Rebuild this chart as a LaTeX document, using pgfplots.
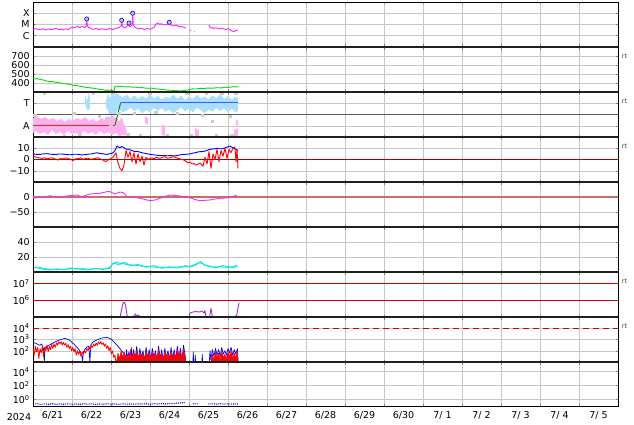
\documentclass[border=0pt]{standalone}
\usepackage{fontspec}
\setmainfont{DejaVu Sans}
\usepackage{pgfplots}
\pgfplotsset{compat=1.18}
\definecolor{xmag}{HTML}{FF22FF}
\definecolor{vgreen}{HTML}{00E000}
\definecolor{ltblue}{HTML}{A8DFFF}
\definecolor{ltpink}{HTML}{FFB0F0}
\definecolor{ltgray}{HTML}{CCCCCC}
\definecolor{dstmag}{HTML}{EE33EE}
\definecolor{dcyan}{HTML}{00E8E8}
\definecolor{purp}{HTML}{A030D0}
\definecolor{zred}{HTML}{AA0000}
\definecolor{dstline}{HTML}{CC6A6A}
\newcommand{\lbl}{\fontsize{9.5}{11}\selectfont}
\pgfplotsset{panel/.style={
  scale only axis, width=585pt, height=45pt, anchor=south west,
  xmin=0, xmax=15, xtick={0,1,...,15}, xticklabels={},
  grid=major, major grid style={draw=black!22, line width=0.5pt},
  axis line style={black, line width=0.6pt},
  tick align=inside, major tick length=2.5pt, tick style={black!50, line width=0.5pt},
  yticklabel style={font=\lbl, inner sep=1pt, xshift=-2.2pt},
  xticklabel style={font=\lbl},
  clip=true,
  every axis plot/.append style={line width=0.9pt, line join=round},
}}
\begin{document}
\begin{tikzpicture}
\useasboundingbox (0,0) rectangle (634pt,424pt);
% ---------- Panel 1: X-ray class
\begin{axis}[panel, at={(33pt,377pt)}, ymin=-7, ymax=-3, ytick={-6,-5,-4}, yticklabels={C,M,X}]
\addplot[xmag] coordinates {(0,-5.44)(0.04,-5.40)(0.077,-5.36)(0.12,-5.42)(0.179,-5.46)(0.22,-5.40)(0.256,-5.38)(0.3,-5.45)(0.333,-5.49)(0.38,-5.42)(0.436,-5.40)(0.47,-5.46)(0.513,-5.44)(0.55,-5.38)(0.590,-5.36)(0.64,-5.42)(0.692,-5.44)(0.73,-5.40)(0.769,-5.49)(0.8,-5.42)(0.846,-5.40)(0.9,-5.44)(0.949,-5.36)(1.0,-5.22)(1.04,-5.30)(1.077,-5.27)(1.12,-5.20)(1.154,-5.13)(1.18,-5.25)(1.205,-5.27)(1.24,-5.20)(1.282,-5.18)(1.31,-5.26)(1.333,-5.27)(1.365,-5.10)(1.377,-4.51)(1.39,-5.05)(1.410,-5.22)(1.44,-5.28)(1.462,-5.31)(1.5,-5.38)(1.538,-5.44)(1.58,-5.38)(1.615,-5.36)(1.67,-5.42)(1.718,-5.44)(1.76,-5.38)(1.795,-5.40)(1.83,-5.45)(1.872,-5.47)(1.92,-5.40)(1.974,-5.36)(2.01,-5.42)(2.051,-5.44)(2.09,-5.38)(2.128,-5.36)(2.17,-5.30)(2.205,-5.27)(2.26,-5.15)(2.274,-4.63)(2.29,-5.10)(2.308,-5.22)(2.33,-5.26)(2.359,-5.31)(2.39,-5.20)(2.410,-5.13)(2.45,-5.05)(2.462,-4.87)(2.475,-5.10)(2.487,-5.18)(2.52,-5.15)(2.545,-5.05)(2.556,-4.00)(2.57,-5.00)(2.590,-5.13)(2.62,-5.25)(2.641,-5.31)(2.68,-5.36)(2.718,-5.40)(2.76,-5.34)(2.795,-5.36)(2.83,-5.42)(2.872,-5.44)(2.91,-5.38)(2.949,-5.36)(2.99,-5.42)(3.026,-5.40)(3.06,-5.33)(3.103,-5.27)(3.13,-5.10)(3.154,-4.96)(3.18,-4.92)(3.205,-4.87)(3.23,-4.95)(3.256,-5.00)(3.28,-4.93)(3.308,-4.96)(3.35,-5.02)(3.385,-5.04)(3.42,-4.97)(3.462,-5.00)(3.48,-4.92)(3.495,-4.80)(3.51,-4.98)(3.538,-5.04)(3.58,-5.10)(3.615,-5.13)(3.65,-5.06)(3.692,-5.09)(3.73,-5.15)(3.769,-5.22)(3.81,-5.18)(3.846,-5.22)(3.88,-5.28)(3.923,-5.31)};
\addplot[xmag] coordinates {(4.026,-5.49)(4.051,-5.53)};
\addplot[xmag] coordinates {(4.135,-5.60)(4.145,-5.62)};
\addplot[xmag] coordinates {(4.513,-5.04)(4.53,-5.20)(4.564,-5.31)(4.6,-5.28)(4.641,-5.36)(4.68,-5.30)(4.718,-5.31)(4.76,-5.38)(4.795,-5.40)(4.83,-5.33)(4.872,-5.36)(4.91,-5.42)(4.949,-5.44)(4.99,-5.38)(5.026,-5.40)(5.06,-5.48)(5.103,-5.58)(5.13,-5.60)(5.154,-5.62)(5.18,-5.58)(5.205,-5.53)(5.23,-5.50)(5.256,-5.49)};
\addplot[only marks, mark=*, mark size=2.1pt, mark options={draw=blue!80!black, fill=blue!25, line width=0.6pt}] coordinates {(1.377,-4.51)(2.274,-4.63)(2.462,-4.87)(2.556,-4.00)(3.495,-4.80)};
\end{axis}
% ---------- Panel 2: wind speed
\begin{axis}[panel, at={(33pt,332pt)}, ymin=300, ymax=800, ytick={400,500,600,700}, yticklabels={400,500,600,700}]
\addplot[vgreen] coordinates {(0,452)(0.05,446)(0.1,449)(0.179,439)(0.25,435)(0.3,428)(0.36,421)(0.436,414)(0.5,416)(0.57,408)(0.641,406)(0.7,400)(0.78,396)(0.872,389)(0.93,384)(1.0,378)(1.077,372)(1.12,375)(1.2,364)(1.282,359)(1.35,352)(1.43,349)(1.513,344)(1.57,340)(1.63,335)(1.718,330)(1.78,326)(1.85,320)(1.897,317)(1.95,322)(2.0,316)(2.051,317)(2.08,318)(2.103,367)(2.16,363)(2.231,361)(2.3,364)(2.35,358)(2.410,356)(2.48,359)(2.564,352)(2.63,354)(2.718,347)(2.8,349)(2.87,344)(2.974,341)(3.05,343)(3.12,337)(3.205,333)(3.3,329)(3.436,322)(3.55,319)(3.641,317)(3.75,312)(3.846,314)(3.93,320)(4.026,330)(4.1,335)(4.18,333)(4.282,341)(4.38,339)(4.487,344)(4.6,342)(4.718,348)(4.82,346)(4.923,353)(5.02,351)(5.128,359)(5.2,356)(5.256,361)};
\end{axis}
% ---------- Panel 3: IMF sector T/A
\begin{axis}[panel, at={(33pt,287pt)}, ymin=-1, ymax=1, ytick={-0.5,0.5}, yticklabels={A,T}]
\addplot[fill=ltpink, draw=none] coordinates {(0,-0.16)(0.103,-0.07)(0.205,-0.2)(0.308,-0.11)(0.410,-0.24)(0.513,-0.16)(0.615,-0.29)(0.718,-0.2)(0.821,-0.33)(0.923,-0.2)(1.026,-0.29)(1.128,-0.16)(1.231,-0.24)(1.333,-0.11)(1.436,-0.29)(1.538,-0.2)(1.641,-0.33)(1.744,-0.16)(1.846,-0.24)(1.949,-0.11)(2.051,-0.07)(2.128,-0.16)(2.128,-0.82)(2.026,-0.91)(1.923,-0.78)(1.821,-0.87)(1.718,-0.73)(1.615,-0.91)(1.513,-0.78)(1.410,-0.87)(1.308,-0.73)(1.205,-0.91)(1.103,-0.82)(1.0,-0.87)(0.897,-0.73)(0.795,-0.91)(0.692,-0.78)(0.590,-0.87)(0.487,-0.69)(0.385,-0.91)(0.282,-0.78)(0.179,-0.87)(0.077,-0.73)(0,-0.82)} -- cycle;
\addplot[fill=ltpink, draw=none] coordinates {(2.13,-0.1)(2.2,-0.3)(2.28,-0.15)(2.35,-0.5)(2.4,-0.7)(2.4,-0.95)(2.3,-0.9)(2.2,-0.98)(2.13,-0.8)} -- cycle;
\addplot[fill=ltpink, draw=none] coordinates {(2.87,-0.1)(2.95,-0.15)(2.95,-0.45)(2.9,-0.4)(2.87,-0.3)} -- cycle;
\addplot[fill=ltpink, draw=none] coordinates {(3.3,-0.45)(3.38,-0.5)(3.38,-0.95)(3.3,-0.9)} -- cycle;
\addplot[fill=ltpink, draw=none] coordinates {(4.15,-0.6)(4.25,-0.7)(4.25,-0.98)(4.15,-0.95)} -- cycle;
\addplot[fill=ltpink, draw=none] coordinates {(5.2,-0.2)(5.26,-0.3)(5.26,-0.5)(5.2,-0.45)} -- cycle;
\addplot[fill=ltpink, draw=none] coordinates {(5.15,-0.7)(5.26,-0.6)(5.26,-0.98)(5.15,-0.98)} -- cycle;
\addplot[fill=ltblue, draw=none] coordinates {(1.33,0.9)(1.38,0.6)(1.43,0.95)(1.46,0.7)(1.46,0.3)(1.41,0.15)(1.36,0.35)(1.33,0.5)} -- cycle;
\addplot[fill=ltblue, draw=none] coordinates {(1.87,0.6)(1.92,0.95)(1.97,0.7)(2.02,0.98)(2.08,0.8)(2.13,0.95)(2.18,0.9)(2.18,0.25)(2.13,0.05)(2.08,-0.1)(2.02,0.1)(1.97,-0.05)(1.92,0.2)(1.87,0.3)} -- cycle;
\addplot[fill=ltblue, draw=none] coordinates {(2.18,0.9)(2.3,0.75)(2.4,0.88)(2.5,0.7)(2.6,0.85)(2.7,0.68)(2.8,0.82)(2.9,0.72)(3.0,0.9)(3.1,0.7)(3.2,0.84)(3.3,0.66)(3.4,0.8)(3.5,0.72)(3.6,0.88)(3.7,0.7)(3.8,0.83)(3.9,0.64)(4.0,0.78)(4.1,0.7)(4.2,0.86)(4.3,0.72)(4.4,0.8)(4.5,0.68)(4.6,0.85)(4.7,0.72)(4.8,0.9)(4.9,0.7)(5.0,0.82)(5.1,0.66)(5.2,0.8)(5.26,0.72)(5.26,0.2)(5.2,0.08)(5.1,0.25)(5.0,0.1)(4.9,0.28)(4.8,0.15)(4.7,0.3)(4.6,0.12)(4.5,0.22)(4.4,0.05)(4.3,0.2)(4.2,0.3)(4.1,0.1)(4.0,0.24)(3.9,0.15)(3.8,0.32)(3.7,0.18)(3.6,0.05)(3.5,0.22)(3.4,0.12)(3.3,0.28)(3.2,0.15)(3.1,0.3)(3.0,0.1)(2.9,0.2)(2.8,0.05)(2.7,0.25)(2.6,0.15)(2.5,0.3)(2.4,0.18)(2.3,0.1)(2.18,0.25)} -- cycle;
\addplot[only marks, color=ltgray, mark=square*, mark size=1.2pt, mark options={draw=ltgray, fill=ltgray, line width=0pt}] coordinates {(0.05,-0.05)(0.3,0.95)(0.55,-0.6)(1.2,-0.95)(1.55,0.95)(1.7,-0.1)(1.9,-0.2)(2.05,0.95)(2.25,-0.4)(2.45,-0.9)(2.6,0.05)(2.75,-0.95)(3.0,0.95)(3.15,0.1)(3.45,-0.95)(3.7,0.05)(3.95,0.95)(4.05,-0.95)(4.35,-0.05)(4.6,-0.3)(4.85,0.95)(5.05,-0.1)(5.2,0.95)(5.1,-0.95)(0.8,-0.97)(1.05,0.05)(2.0,-0.5)(2.2,0.05)(4.45,0.95)(4.7,-0.95)};
\addplot[black!65, line width=0.7pt] coordinates {(0,0)(15,0)};
\addplot[red!90] coordinates {(0,-0.47)(2.103,-0.47)};
\addplot[green!50!black] coordinates {(2.103,-0.47)(2.246,0.52)};
\addplot[blue!70] coordinates {(2.246,0.52)(5.256,0.52)};
\end{axis}
% ---------- Panel 4: Bt / Bz
\begin{axis}[panel, at={(33pt,242pt)}, ymin=-20, ymax=20, ytick={-10,0,10}, yticklabels={−10,0,10}]
\addplot[zred, line width=0.7pt] coordinates {(0,0)(15,0)};
\addplot[blue] coordinates {(0,4.9)(0.09,4.6)(0.179,4.5)(0.27,5.0)(0.359,5.2)(0.46,4.7)(0.564,4.4)(0.67,4.9)(0.769,4.8)(0.86,4.4)(0.949,4.2)(1.05,4.7)(1.154,4.6)(1.24,4.1)(1.333,4.3)(1.42,4.8)(1.513,5.0)(1.58,5.6)(1.641,6.0)(1.7,5.5)(1.769,5.2)(1.83,4.8)(1.897,4.5)(1.96,5.1)(2.026,5.5)(2.07,6.5)(2.103,8)(2.154,12)(2.19,11)(2.231,10.5)(2.27,11.5)(2.308,11)(2.36,9.8)(2.410,9)(2.45,9.3)(2.487,8.5)(2.55,7.8)(2.615,7)(2.68,7.2)(2.744,6.5)(2.81,5.9)(2.872,5.5)(2.94,5.0)(3.0,4.5)(3.06,4.3)(3.128,4)(3.19,3.8)(3.256,3.5)(3.35,3.6)(3.436,3.3)(3.54,3.5)(3.641,3.2)(3.74,3.9)(3.846,4.5)(3.94,4.7)(4.026,5)(4.09,5.6)(4.154,6)(4.22,6.6)(4.282,7)(4.35,7.1)(4.410,7.5)(4.47,8.2)(4.538,9)(4.6,9.3)(4.667,9.5)(4.718,10)(4.78,9.6)(4.846,9.5)(4.91,10.2)(4.974,11)(5.02,11.5)(5.051,12)(5.09,11)(5.128,10.5)(5.17,9.7)(5.205,9)(5.256,8)};
\addplot[red] coordinates {(0,3)(0.05,2.4)(0.103,2)(0.17,1.4)(0.231,1)(0.3,1.6)(0.359,0.5)(0.42,1.2)(0.487,1.5)(0.56,0.6)(0.641,-0.5)(0.7,0.8)(0.769,0.5)(0.83,1.4)(0.897,1)(0.96,0.2)(1.026,-1)(1.09,0.5)(1.154,0.8)(1.22,1.5)(1.282,0.2)(1.35,0.9)(1.410,1.2)(1.47,0.3)(1.538,0.5)(1.6,1.0)(1.667,1.5)(1.73,0.4)(1.795,-0.5)(1.872,-2)(1.92,-0.5)(1.974,0.5)(2.051,2)(2.128,6)(2.179,-3)(2.231,-8)(2.282,-10)(2.333,-5)(2.385,8)(2.436,2)(2.487,7)(2.538,-2)(2.590,6)(2.641,-4)(2.692,5)(2.744,-2)(2.795,3)(2.846,-5)(2.897,2)(2.949,0)(3.0,1.0)(3.051,1.5)(3.1,0.6)(3.154,2)(3.2,1.5)(3.256,1)(3.32,2.0)(3.385,2.5)(3.45,1.2)(3.513,1.5)(3.58,2.4)(3.641,2)(3.7,1.2)(3.769,0.5)(3.83,0.0)(3.897,-1)(3.974,-3)(4.03,-2.2)(4.077,-4)(4.13,-3.5)(4.179,-5)(4.23,-4.2)(4.282,-3)(4.32,-4.5)(4.359,-6)(4.410,2)(4.462,-4)(4.513,7)(4.564,-8)(4.615,5)(4.667,0)(4.718,9)(4.769,-2)(4.821,8)(4.872,3)(4.923,10)(4.974,1)(5.026,9)(5.077,6)(5.128,10)(5.179,11)(5.205,-2)(5.231,9)(5.256,-8)};
\end{axis}
% ---------- Panel 5: Dst
\begin{axis}[panel, at={(33pt,197pt)}, ymin=-100, ymax=50, ytick={-50,0}, yticklabels={−50,0}]
\addplot[dstline, line width=1.6pt] coordinates {(0,0)(15,0)};
\addplot[dstmag] coordinates {(0,-4.3)(0.128,-1.7)(0.256,-1)(0.436,4.3)(0.641,-2.3)(0.864,3.3)(1.121,6.7)(1.249,1)(1.462,10)(1.718,12.3)(1.890,17.7)(1.974,17.7)(2.103,10)(2.231,16.7)(2.333,13.3)(2.403,1)(2.564,0)(2.744,-4.3)(2.872,-8.3)(3.0,-12.3)(3.128,-10)(3.256,-4.3)(3.385,1.7)(3.513,6.7)(3.641,5)(3.769,3.3)(3.897,0)(4.026,-2.3)(4.154,-8.3)(4.282,-12.3)(4.410,-11)(4.538,-10)(4.667,-6.7)(4.795,-4.3)(4.923,-3.3)(5.051,-2.3)(5.128,1.7)(5.223,6.7)};
\end{axis}
% ---------- Panel 6: density
\begin{axis}[panel, at={(33pt,152pt)}, ymin=0, ymax=60, ytick={20,40}, yticklabels={20,40}]
\addplot[dcyan] coordinates {(0.051,7.1)(0.128,5.3)(0.256,3.6)(0.436,2.7)(0.641,3.3)(0.864,3.6)(1.0,4.7)(1.121,4.9)(1.256,3.3)(1.377,2.7)(1.538,4)(1.718,4.4)(1.846,4)(1.974,4.9)(2.059,12.4)(2.128,11.3)(2.187,9.3)(2.282,12)(2.385,10)(2.564,9.3)(2.744,8)(3.0,7.1)(3.205,6)(3.436,5.7)(3.692,6.7)(3.949,7.1)(4.103,8.7)(4.231,12)(4.282,12.4)(4.359,10.7)(4.462,8)(4.615,6.7)(4.795,7.1)(4.974,6)(5.128,7.1)(5.223,9.3)};
\addplot[dcyan] coordinates {(0.03,5.5)(0.15,6.5)(0.3,4.5)(0.45,3.5)(0.6,4.2)(0.8,3.0)(0.95,5.5)(1.1,3.8)(1.3,4.5)(1.45,3.5)(1.6,5.0)(1.8,3.2)(1.95,5.8)(2.05,10.5)(2.15,13.5)(2.25,10.5)(2.35,13)(2.5,8.5)(2.7,10)(2.9,6.5)(3.1,8.5)(3.3,5)(3.5,7)(3.7,5.2)(3.9,8.5)(4.05,7)(4.2,10)(4.3,14)(4.4,9)(4.55,7.5)(4.7,5.5)(4.85,8.5)(5.0,7.5)(5.15,5.5)(5.25,8)};
\end{axis}
% ---------- Panel 7: >2MeV electrons
\begin{axis}[panel, at={(33pt,107pt)}, ymin=5, ymax=7.7, ytick={6,7}, yticklabels={10\textsuperscript{6},10\textsuperscript{7}}]
\addplot[red!80!black, line width=0.8pt] coordinates {(0,6)(15,6)};
\addplot[red!80!black, line width=0.8pt] coordinates {(0,7)(15,7)};
\addplot[purp] coordinates {(2.231,4.97)(2.269,5.42)(2.308,5.84)(2.341,5.88)(2.372,5.72)(2.397,5.3)(2.423,4.97)};
\addplot[purp] coordinates {(2.590,5.06)(2.628,5.18)(2.654,5.03)(2.692,5.12)(2.744,5.03)};
\addplot[purp] coordinates {(4.0,4.97)(4.026,5.24)(4.103,5.30)(4.179,5.33)(4.256,5.30)(4.333,5.36)(4.385,5.24)(4.410,5.39)(4.436,4.97)};
\addplot[purp] coordinates {(4.526,4.97)(4.564,5.52)(4.603,4.97)};
\addplot[purp] coordinates {(5.0,5.03)(5.02,5.03)};
\addplot[purp] coordinates {(5.179,5.03)(5.223,5.10)(5.282,5.86)};
\end{axis}
% ---------- Panel 8: protons / electrons flux
\begin{axis}[panel, at={(33pt,62pt)}, ymin=1, ymax=5, ytick={1,2,3,4,5}, yticklabels={,10\textsuperscript{2},10\textsuperscript{3},10\textsuperscript{4},}]
\addplot[red!85!black, dash pattern=on 6pt off 4pt, line width=0.9pt] coordinates {(0,4)(15,4)};
\addplot[blue, line width=0.7pt] coordinates {(0,2.78)(0.04,2.7)(0.09,2.64)(0.13,2.55)(0.18,2.48)(0.22,2.6)(0.25,2.35)(0.27,2.18)(0.29,1.0)(0.31,2.3)(0.35,2.39)(0.4,2.48)(0.44,2.55)(0.48,2.62)(0.52,2.69)(0.57,2.79)(0.61,2.87)(0.68,2.96)(0.74,3.03)(0.82,3.09)(0.87,3.05)(0.91,3.0)(0.95,2.9)(0.99,2.78)(1.04,2.62)(1.08,2.48)(1.12,2.32)(1.16,2.18)(1.22,1.87)(1.25,1.6)(1.27,1.12)(1.29,1.8)(1.31,2.03)(1.35,2.2)(1.38,2.33)(1.43,2.4)(1.46,1.0)(1.48,2.5)(1.51,2.65)(1.54,2.78)(1.6,2.9)(1.67,3.0)(1.74,3.1)(1.80,3.15)(1.90,3.18)(1.95,3.12)(1.99,3.05)(2.04,2.92)(2.08,2.78)(2.12,2.62)(2.16,2.48)(2.2,2.3)(2.23,2.18)(2.27,2.0)(2.30,1.87)(2.34,1.75)(2.38,1.3)(2.40,2.1)(2.42,1.2)(2.46,1.9)(2.50,1.1)(2.52,2.3)(2.54,1.3)(2.58,2.1)(2.62,1.2)(2.66,2.4)(2.70,1.1)(2.74,2.2)(2.78,1.4)(2.82,2.0)(2.86,1.1)(2.90,2.3)(2.94,1.3)(2.98,2.1)(3.02,1.2)(3.06,2.2)(3.10,1.4)(3.14,2.0)(3.18,1.1)(3.22,2.4)(3.26,1.3)(3.30,2.1)(3.34,1.1)(3.38,2.2)(3.42,1.4)(3.46,2.0)(3.50,1.2)(3.54,2.3)(3.58,1.3)(3.62,2.1)(3.66,1.2)(3.70,2.4)(3.74,1.4)(3.78,2.2)(3.82,1.1)(3.86,2.5)(3.90,1.6)(3.92,1.0)};
\addplot[blue, line width=0.7pt] coordinates {(4.10,0.9)(4.11,1.9)(4.12,0.9)(4.15,0.9)(4.16,1.6)(4.17,0.9)};
\addplot[blue, line width=0.7pt] coordinates {(4.33,0.9)(4.34,1.7)(4.35,0.9)};
\addplot[blue, line width=0.7pt] coordinates {(4.52,1.0)(4.54,2.0)(4.56,1.2)(4.60,2.1)(4.64,1.5)(4.68,2.2)(4.72,1.6)(4.76,2.1)(4.80,1.5)(4.84,2.3)(4.88,1.7)(4.92,2.0)(4.96,1.6)(5.00,2.2)(5.04,1.8)(5.08,2.3)(5.12,1.6)(5.16,2.1)(5.20,1.7)(5.24,2.2)(5.26,1.0)};
\addplot[red, line width=0.8pt] coordinates {(0,2.2)(0.03,1.6)(0.06,2.4)(0.09,1.9)(0.12,2.3)(0.15,1.3)(0.18,2.2)(0.21,1.8)(0.24,2.4)(0.27,1.5)(0.30,2.3)(0.33,2.0)(0.36,2.5)(0.39,1.9)(0.42,2.4)(0.45,2.1)(0.48,2.6)(0.51,2.2)(0.54,2.6)(0.57,2.3)(0.60,2.7)(0.63,2.5)(0.66,2.8)(0.69,2.6)(0.72,2.8)(0.75,2.5)(0.78,2.75)(0.81,2.5)(0.84,2.65)(0.87,2.3)(0.90,2.55)(0.93,2.2)(0.96,2.4)(0.99,2.0)(1.02,2.3)(1.05,1.9)(1.08,2.2)(1.11,1.6)(1.14,2.0)(1.17,1.7)(1.20,1.95)(1.23,1.5)(1.26,1.9)(1.29,1.7)(1.32,2.0)(1.35,1.8)(1.38,2.2)(1.41,2.0)(1.44,2.35)(1.47,2.1)(1.50,2.45)(1.53,2.3)(1.56,2.6)(1.59,2.4)(1.62,2.7)(1.65,2.5)(1.68,2.8)(1.71,2.6)(1.74,2.8)(1.77,2.55)(1.80,2.7)(1.83,2.4)(1.86,2.6)(1.89,2.2)(1.92,2.45)(1.95,2.0)(1.98,2.3)(2.01,1.7)(2.04,2.0)(2.07,1.4)(2.10,1.6)(2.12,1.1)(2.14,1.0)};
\addplot[fill=red, draw=red, line width=0.4pt] coordinates {(2.14,1.0)(2.18,1.8)(2.22,1.3)(2.26,2.0)(2.30,1.4)(2.34,1.9)(2.38,1.2)(2.42,1.7)(2.46,1.4)(2.50,2.1)(2.54,1.3)(2.58,1.8)(2.62,1.5)(2.66,2.0)(2.70,1.3)(2.74,1.9)(2.78,1.4)(2.82,1.7)(2.86,1.2)(2.90,2.0)(2.94,1.4)(2.98,1.8)(3.02,1.3)(3.06,1.9)(3.10,1.5)(3.14,1.7)(3.18,1.3)(3.22,2.1)(3.26,1.4)(3.30,1.8)(3.34,1.2)(3.38,1.9)(3.42,1.5)(3.46,1.7)(3.50,1.3)(3.54,2.0)(3.58,1.4)(3.62,1.8)(3.66,1.3)(3.70,2.1)(3.74,1.5)(3.78,1.9)(3.82,1.3)(3.86,2.2)(3.90,1.5)(3.92,1.0)(3.92,0.9)(2.14,0.9)} -- cycle;
\addplot[fill=red, draw=red, line width=0.4pt] coordinates {(4.56,1.0)(4.60,1.7)(4.64,1.2)(4.68,1.9)(4.72,1.4)(4.76,1.8)(4.80,1.2)(4.84,2.0)(4.88,1.4)(4.92,1.7)(4.96,1.3)(5.00,1.9)(5.04,1.5)(5.08,2.0)(5.12,1.3)(5.16,1.8)(5.20,1.4)(5.24,2.0)(5.26,1.0)(5.26,0.9)(4.56,0.9)} -- cycle;
\end{axis}
% ---------- Panel 9
\begin{axis}[panel, height=44.5pt, at={(33pt,17.5pt)}, ymin=-1, ymax=5.4, ytick={0,2,4}, yticklabels={10\textsuperscript{0},10\textsuperscript{2},10\textsuperscript{4}},
  extra x ticks={0.5,1.5,...,14.5},
  extra x tick labels={6/21,6/22,6/23,6/24,6/25,6/26,6/27,6/28,6/29,6/30,7/\ 1,7/\ 2,7/\ 3,7/\ 4,7/\ 5},
  extra x tick style={grid=none, major tick length=0pt, xticklabel style={font=\lbl, yshift=-1.5pt}}]
\addplot[blue, densely dotted, line width=1.1pt] coordinates {(0,-0.66)(0.1,-0.6)(0.2,-0.7)(0.3,-0.62)(0.4,-0.68)(0.5,-0.6)(0.6,-0.7)(0.7,-0.63)(0.8,-0.69)(0.9,-0.6)(1.0,-0.67)(1.1,-0.62)(1.2,-0.7)(1.3,-0.6)(1.4,-0.66)(1.5,-0.61)(1.6,-0.7)(1.7,-0.63)(1.8,-0.68)(1.9,-0.6)(2.0,-0.66)(2.1,-0.62)(2.2,-0.69)(2.3,-0.6)(2.4,-0.67)(2.5,-0.62)(2.6,-0.68)(2.7,-0.6)(2.8,-0.66)(2.9,-0.6)(3.0,-0.67)(3.1,-0.6)(3.2,-0.65)(3.3,-0.58)(3.4,-0.64)(3.5,-0.57)(3.6,-0.6)(3.7,-0.52)(3.8,-0.48)(3.85,-0.44)(3.9,-0.45)};
\addplot[blue, densely dotted, line width=1.1pt] coordinates {(4.10,-0.62)(4.14,-0.6)(4.18,-0.64)(4.22,-0.6)};
\addplot[blue, densely dotted, line width=1.1pt] coordinates {(4.5,-0.64)(4.6,-0.6)(4.7,-0.66)(4.8,-0.6)(4.9,-0.65)(5.0,-0.6)(5.1,-0.66)(5.2,-0.62)(5.26,-0.64)};
\end{axis}
% separators
\foreach \yy in {377,332,287,242,197,152,107,62} {
  \draw[line width=2pt, black!88] (33pt,\yy pt) -- (618pt,\yy pt);
}
\node[font=\lbl] at (19pt,7pt) {2024};
\foreach \yy in {367.3,322.3,277.3,142.3,97.3} {
  \node[font=\fontsize{6.5}{6.5}\selectfont, text=black!75, inner sep=0pt] at (624.5pt,\yy pt) {rt};
}
\end{tikzpicture}
\end{document}
